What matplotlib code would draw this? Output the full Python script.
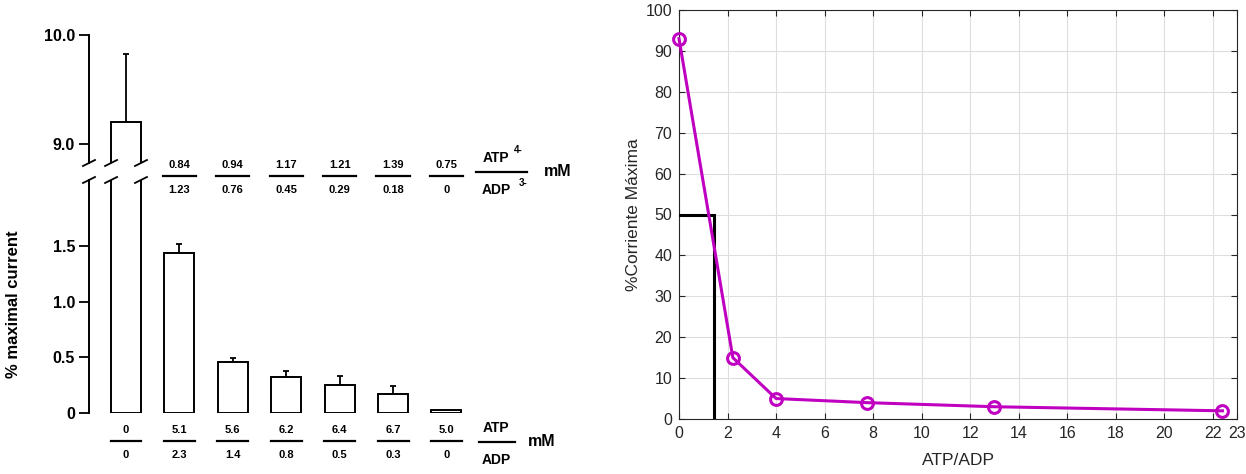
import matplotlib
matplotlib.use("Agg")
import matplotlib.pyplot as plt
from matplotlib import transforms, font_manager
from matplotlib.lines import Line2D
import numpy as np

plt.rcParams["font.family"] = ["Liberation Sans", "DejaVu Sans"]

# ---- left panel: current at each ATP/ADP mixture (broken y axis) ----
current = [9.2, 1.44, 0.455, 0.32, 0.25, 0.17, 0.025]
current_err = [0.63, 0.08, 0.04, 0.06, 0.08, 0.075, 0.0]
atp_total = ["0", "5.1", "5.6", "6.2", "6.4", "6.7", "5.0"]
adp_total = ["0", "2.3", "1.4", "0.8", "0.5", "0.3", "0"]
atp_free = ["0.84", "0.94", "1.17", "1.21", "1.39", "0.75"]
adp_free = ["1.23", "0.76", "0.45", "0.29", "0.18", "0"]
upper_ticks = [9.0, 10.0]
upper_ticklabels = ["9.0", "10.0"]
lower_ticks = [0, 0.5, 1.0, 1.5]
lower_ticklabels = ["0", "0.5", "1.0", "1.5"]

# ---- right panel: % of maximal current vs ATP/ADP ratio ----
ratio = [0, 2.22, 4.0, 7.75, 13.0, 22.4]
pct_max = [93, 15, 5, 4, 3, 2]
half_ratio = 1.43
half_pct = 50
x_ticks = [0, 2, 4, 6, 8, 10, 12, 14, 16, 18, 20, 22, 23]
y_ticks = [0, 10, 20, 30, 40, 50, 60, 70, 80, 90, 100]

W, H = 1246, 474
fig = plt.figure(figsize=(W / 100, H / 100), dpi=100)


def box(left, top, right, bottom):
    return [left / W, 1 - bottom / H, (right - left) / W, (bottom - top) / H]


# ================= left: broken-axis bar chart =================
xpos = np.arange(len(current))
bar_w = 0.56
hi_ylim = (8.826, 10.0)
lo_ylim = (0, 2.093)
xlim = (-0.693, 8.127)

ax_hi = fig.add_axes(box(89, 35, 560, 163))
ax_lo = fig.add_axes(box(89, 180, 560, 413))

err = np.array(current_err)
has_err = err > 0
for ax in (ax_hi, ax_lo):
    ax.bar(xpos, current, width=bar_w, color="white", edgecolor="black",
           linewidth=1.4, zorder=2)
    ax.errorbar(xpos[has_err], np.array(current)[has_err],
                yerr=[np.zeros(has_err.sum()), err[has_err]], fmt="none",
                ecolor="black", elinewidth=1.3, capsize=2.5, capthick=1.3,
                zorder=1)
    ax.set_xlim(*xlim)
    for s in ("top", "right", "bottom"):
        ax.spines[s].set_visible(False)
    ax.spines["left"].set_linewidth(1.4)
    ax.tick_params(axis="x", bottom=False, labelbottom=False)
    ax.tick_params(axis="y", direction="out", length=7, width=1.3, pad=3)
    ax.patch.set_visible(False)

ax_hi.set_ylim(*hi_ylim)
ax_lo.set_ylim(*lo_ylim)
ax_hi.set_yticks(upper_ticks, upper_ticklabels, fontsize=11.5, fontweight="bold")
ax_lo.set_yticks(lower_ticks, lower_ticklabels, fontsize=11.5, fontweight="bold")

fig.text(14 / W, 1 - 304 / H, "% maximal current", rotation=90,
         ha="center", va="center", fontsize=12, fontweight="bold")

to_fig = fig.transFigure.inverted()


def slash(ax, xd, yd):
    px, py = ax.transData.transform((xd, yd))
    (x0, y0), (x1, y1) = to_fig.transform([(px - 6, py - 3), (px + 6, py + 3)])
    fig.add_artist(Line2D([x0, x1], [y0, y1], color="black", lw=1.3))


for xd in (xlim[0], -bar_w / 2, bar_w / 2):
    slash(ax_hi, xd, hi_ylim[0])
    slash(ax_lo, xd, lo_ylim[1])

tr = transforms.blended_transform_factory(ax_lo.transData, fig.transFigure)


def fy(py):
    return 1 - py / H


def fraction_line(xc, py, half):
    fig.add_artist(Line2D([xc - half, xc + half], [fy(py), fy(py)],
                          transform=tr, color="black", lw=1.6))


num_kw = dict(transform=tr, ha="center", va="center", fontsize=8,
              fontweight="bold")
# total concentrations under each bar
for i, (a, d) in enumerate(zip(atp_total, adp_total)):
    fig.text(xpos[i], fy(430), a, **num_kw)
    fraction_line(xpos[i], 441, 0.29)
    fig.text(xpos[i], fy(455), d, **num_kw)

# free ATP4- / ADP3- concentrations between the axis breaks
for i, (a, d) in enumerate(zip(atp_free, adp_free), start=1):
    fig.text(xpos[i], fy(165), a, **num_kw)
    fraction_line(xpos[i], 176, 0.31)
    fig.text(xpos[i], fy(190), d, **num_kw)

lab_kw = dict(transform=tr, va="center", fontsize=10, fontweight="bold")
sup_kw = dict(transform=tr, ha="left", va="center", fontsize=7,
              fontweight="bold")
xl = len(current) - 0.05
fig.text(xl - 0.02, fy(158), "ATP", ha="center", **lab_kw)
fig.text(xl + 0.32, fy(150), "4-", **sup_kw)
fraction_line(xl + 0.08, 172, 0.48)
fig.text(xl - 0.02, fy(190), "ADP", ha="center", **lab_kw)
fig.text(xl + 0.4, fy(183), "3-", **sup_kw)
fig.text(xl + 0.88, fy(172), "mM", ha="left", transform=tr, va="center",
         fontsize=11.5, fontweight="bold")

fig.text(xl - 0.02, fy(428), "ATP", ha="center", **lab_kw)
fraction_line(xl, 442, 0.34)
fig.text(xl - 0.02, fy(460), "ADP", ha="center", **lab_kw)
fig.text(xl + 0.58, fy(442), "mM", ha="left", transform=tr, va="center",
         fontsize=11.5, fontweight="bold")

# ================= right: ratio curve =================
installed = {f.name for f in font_manager.fontManager.ttflist}
if "Liberation Sans Narrow" in installed:
    r_font, tick_fs, label_fs = "Liberation Sans Narrow", 13, 14.5
else:
    r_font, tick_fs, label_fs = "Liberation Sans", 11.5, 12.5

ink = "#262626"
ax_r = fig.add_axes(box(679, 10, 1237, 419))
ax_r.plot([0, half_ratio, half_ratio], [half_pct, half_pct, 0], color="black",
          lw=2.2, solid_joinstyle="miter", zorder=3)
ax_r.plot(ratio, pct_max, color="#C000C0", lw=2.2, marker="o", ms=8.5,
          mfc="none", mew=2.2, clip_on=False, zorder=4)
ax_r.set_xlim(0, 23)
ax_r.set_ylim(0, 100)
ax_r.set_xticks(x_ticks)
ax_r.set_yticks(y_ticks)
ax_r.grid(True, color="#dedede", lw=0.8)
ax_r.set_axisbelow(True)
for s in ax_r.spines.values():
    s.set_color(ink)
    s.set_linewidth(0.8)
ax_r.tick_params(direction="in", length=4, width=0.8, colors=ink,
                 labelsize=tick_fs, top=True, right=True, pad=5)
for lbl in ax_r.get_xticklabels() + ax_r.get_yticklabels():
    lbl.set_fontfamily(r_font)
ax_r.set_xlabel("ATP/ADP", fontsize=label_fs, color=ink, labelpad=9,
                fontfamily=r_font)
ax_r.set_ylabel("%Corriente Máxima", fontsize=label_fs, color=ink,
                labelpad=3, fontfamily=r_font)

fig.savefig("out.png", dpi=100)
